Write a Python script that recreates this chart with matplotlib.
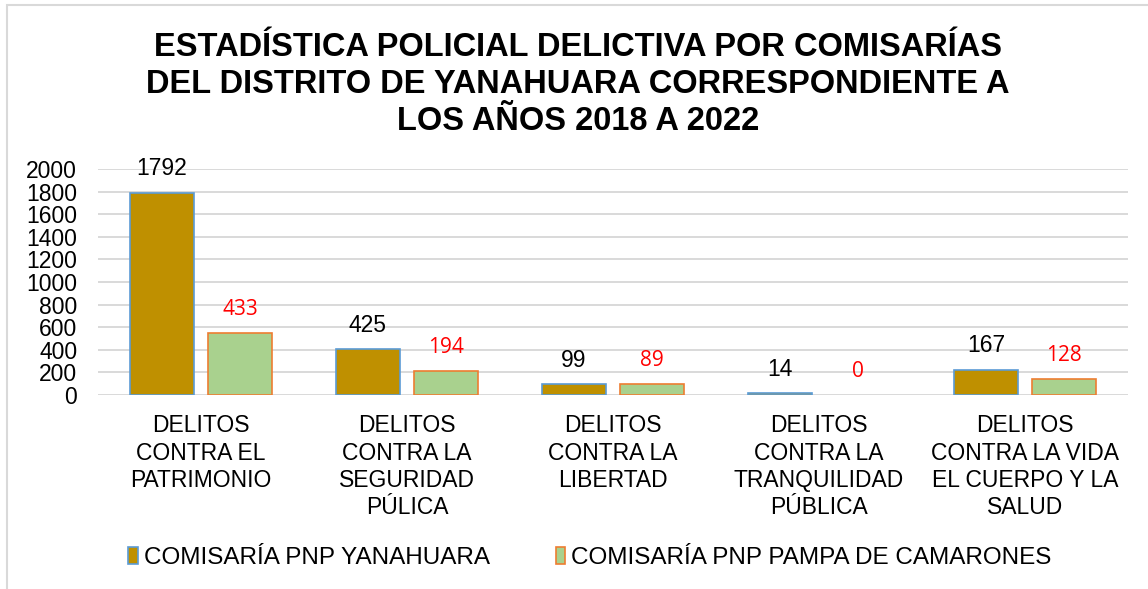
import numpy as np
import matplotlib
matplotlib.use("Agg")
import matplotlib.pyplot as plt
from matplotlib.patches import Rectangle

# Categories and values
categories = [
    "DELITOS\nCONTRA EL\nPATRIMONIO",
    "DELITOS\nCONTRA LA\nSEGURIDAD\nPÚLICA",
    "DELITOS\nCONTRA LA\nLIBERTAD",
    "DELITOS\nCONTRA LA\nTRANQUILIDAD\nPÚBLICA",
    "DELITOS\nCONTRA LA VIDA\nEL CUERPO Y LA\nSALUD",
]
series_names = ["COMISARÍA PNP YANAHUARA", "COMISARÍA PNP PAMPA DE CAMARONES"]

# bar heights as drawn (they don't all match the printed labels)
yanahuara_bars = [1792, 410, 100, 14, 225]
pampa_bars = [546, 210, 94, 0, 139]
# printed data labels
yanahuara_labels = [1792, 425, 99, 14, 167]
pampa_labels = [433, 194, 89, 0, 128]

title_lines = [
    "ESTADÍSTICA POLICIAL DELICTIVA POR COMISARÍAS",
    "DEL DISTRITO DE YANAHUARA CORRESPONDIENTE A",
    "LOS AÑOS 2018 A 2022",
]

plt.rcParams["font.family"] = ["Liberation Sans", "DejaVu Sans"]

W, H = 1148, 589
fig = plt.figure(figsize=(W / 100, H / 100), dpi=100)
ax = fig.add_axes([98 / W, 1 - 395 / H, (1128 - 98) / W, (395 - 169) / H])

x = np.arange(len(categories))
width = 0.31
off = 0.19
b1 = ax.bar(x - off, yanahuara_bars, width, color="#bf9000", edgecolor="#5b9bd5",
            linewidth=1.2, label=series_names[0], zorder=3)
b2 = ax.bar(x + off, pampa_bars, width, color="#a9d18e", edgecolor="#ed7d31",
            linewidth=1.2, label=series_names[1], zorder=3)
# empty bars leave no outline
for rect in list(b1) + list(b2):
    if rect.get_height() == 0:
        rect.set_linewidth(0)

for rect, lab in zip(b1, yanahuara_labels):
    ax.annotate(str(lab), (rect.get_x() + rect.get_width() / 2, rect.get_height()),
                xytext=(0, 17), textcoords="offset points", ha="center", va="center",
                fontsize=16.5, color="black")
for rect, lab in zip(b2, pampa_labels):
    ax.annotate(str(lab), (rect.get_x() + rect.get_width() / 2, rect.get_height()),
                xytext=(0, 17), textcoords="offset points", ha="center", va="center",
                fontsize=15, color="red", family="Open Sans")

ax.set_xlim(-0.5, len(categories) - 0.5)
ax.set_ylim(0, 2000)
ax.set_yticks(np.arange(0, 2001, 200))
ax.grid(axis="y", color="#d9d9d9", linewidth=1.4, zorder=0)
ax.set_axisbelow(True)
for s in ax.spines.values():
    s.set_visible(False)
ax.tick_params(axis="both", length=0, labelsize=16.5)
ax.tick_params(axis="y", pad=15)
ax.tick_params(axis="x", pad=14)
ax.set_xticks(x)
ax.set_xticklabels(categories, linespacing=1.24)

for i, line in enumerate(title_lines):
    fig.text(578 / W, 1 - (56 + 37 * i) / H, line, ha="center", va="baseline",
             fontsize=23.5, fontweight="bold")

fig.legend(loc="center", bbox_to_anchor=(590 / W, 1 - 558 / H), ncol=2, frameon=False,
           fontsize=17.5, handlelength=0.4, handleheight=0.7, handletextpad=0.25,
           columnspacing=2.7, borderpad=0)

# chart-area border (only top and left visible in the crop)
fig.add_artist(Rectangle((7 / W, -0.2), 1.2, 1 - 5 / H + 0.2, transform=fig.transFigure,
                         fill=False, edgecolor="#d9d9d9", linewidth=1.5))

fig.savefig("out.png", dpi=100)
